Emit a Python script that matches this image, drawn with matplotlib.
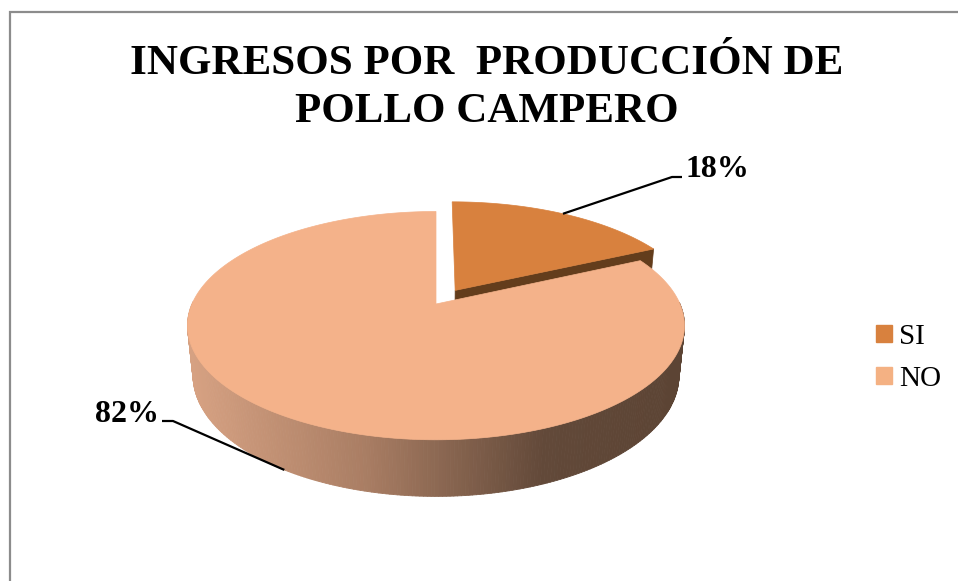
import numpy as np
import matplotlib
matplotlib.use("Agg")
import matplotlib.pyplot as plt
from matplotlib.collections import PolyCollection
from matplotlib.patches import Polygon, Patch, Rectangle

# Data
categories = ["SI", "NO"]
values = [18, 82]
label_texts = ["18%", "82%"]
top_colors = ["#D8813E", "#F4B28A"]
side_colors = ["#633D1C", None]
explode = [0.15, 0.0]

# 3D view parameters (tilt + perspective)
SIN_E, COS_E = 0.451, 0.893
DIST = 4.71
THICK = 0.23

W, H = 958, 581
SCALE = 244.0             # pixels per unit radius
CX, CY = 436.0, 304.0     # pixel position of the pie centre


def project(x, y, z):
    depth = y * COS_E - z * SIN_E
    f = DIST / (DIST + depth)
    return x * f, (y * SIN_E + z * COS_E) * f


def px(x, y):
    # pixel position -> data coords
    return (x - CX) / SCALE, (CY - y) / SCALE


def ring(theta, z, off):
    t = np.radians(theta)
    return project(np.cos(t) + off[0], np.sin(t) + off[1], z)


def wall_color(xs):
    stops_x = [-1.0, -0.3, 0.45, 1.0]
    stops = np.array([[214, 161, 130], [170, 126, 100], [98, 73, 57], [92, 68, 52]]) / 255
    return tuple(np.interp(xs, stops_x, stops[:, k]) for k in range(3))


fig = plt.figure(figsize=(W / 100, H / 100), dpi=100)
ax = fig.add_axes([0, 0, 1, 1])
x0, y0 = px(0, H)
x1, y1 = px(W, 0)
ax.set_xlim(x0, x1)
ax.set_ylim(y0, y1)
ax.axis("off")

# chart border
fig.patches.append(Rectangle((9.5 / W, -0.1), 1.2, 1.1 - 11.5 / H, transform=fig.transFigure,
                             fill=False, edgecolor="#8C8C8C", linewidth=1.6))

total = float(sum(values))
start = 90.0
anchors = []
for i, v in enumerate(values):
    sweep = 360.0 * v / total
    t1, t2 = start, start - sweep          # clockwise from 12 o'clock
    start = t2
    mid = np.radians((t1 + t2) / 2)
    off = (explode[i] * np.cos(mid), explode[i] * np.sin(mid))
    vx, vy = project(off[0], off[1], 0)
    vbx, vby = project(off[0], off[1], -THICK)

    # radial face at the clockwise end
    if np.cos(np.radians(t2)) > 0.01 and side_colors[i]:
        ox, oy = ring(t2, 0, off)
        obx, oby = ring(t2, -THICK, off)
        ax.add_patch(Polygon([(vx, vy), (ox, oy), (obx, oby), (vbx, vby)],
                             closed=True, facecolor=side_colors[i], edgecolor=side_colors[i], lw=0.5))

    # outer wall, front part
    ts = np.linspace(t2, t1, 400)
    quads, cols = [], []
    for a, b in zip(ts[:-1], ts[1:]):
        if np.sin(np.radians((a + b) / 2)) >= 0.02:
            continue
        ax_, ay_ = ring(a, 0, off)
        bx_, by_ = ring(b, 0, off)
        bbx, bby = ring(b, -THICK, off)
        abx, aby = ring(a, -THICK, off)
        quads.append([(ax_, ay_), (bx_, by_), (bbx, bby), (abx, aby)])
        cols.append(wall_color((ax_ + bx_) / 2))
    if quads:
        ax.add_collection(PolyCollection(quads, facecolors=cols, edgecolors=cols, linewidths=0.6))

    # top face
    rx, ry = ring(ts, 0, off)
    pts = [(vx, vy)] + list(zip(rx, ry))
    ax.add_patch(Polygon(pts, closed=True, facecolor=top_colors[i], edgecolor=top_colors[i], lw=0.5))

    # anchor for leader line
    if np.sin(mid) > 0:
        anchors.append(ring(np.degrees(mid), 0, off))
    else:
        anchors.append(ring(np.degrees(mid), -THICK, off))

# data labels with leader lines
label_pos = [(685, 177), (95, 422)]
elbows = [[(672, 177), (682, 177)], [(173, 421), (162, 421)]]
for i, txt in enumerate(label_texts):
    pts = [anchors[i]] + [px(*p) for p in elbows[i]]
    xs, ys = zip(*pts)
    ax.plot(xs, ys, color="black", lw=1.6, solid_capstyle="butt")
    tx, ty = px(*label_pos[i])
    ax.text(tx, ty, txt, ha="left", va="baseline", fontsize=23, fontweight="bold",
            family="Liberation Serif")

# title
for line, yb in [("INGRESOS POR  PRODUCCIÓN DE", 74), ("POLLO CAMPERO", 122)]:
    tx, ty = px(487, yb)
    ax.text(tx, ty, line, ha="center", va="baseline", fontsize=31, fontweight="bold",
            family="Liberation Serif")

# legend
handles = [Patch(facecolor=c, edgecolor=c) for c in ["#D8813E", "#F4B183"]]
leg = ax.legend(handles, categories, loc="upper left", bbox_to_anchor=(864 / W, 1 - 312 / H),
                bbox_transform=fig.transFigure, frameon=False, handlelength=0.55, handleheight=0.55,
                handletextpad=0.25, labelspacing=0.55, borderaxespad=0,
                prop={"family": "Liberation Serif", "size": 21})

fig.savefig("out.png", dpi=100, facecolor="white")
